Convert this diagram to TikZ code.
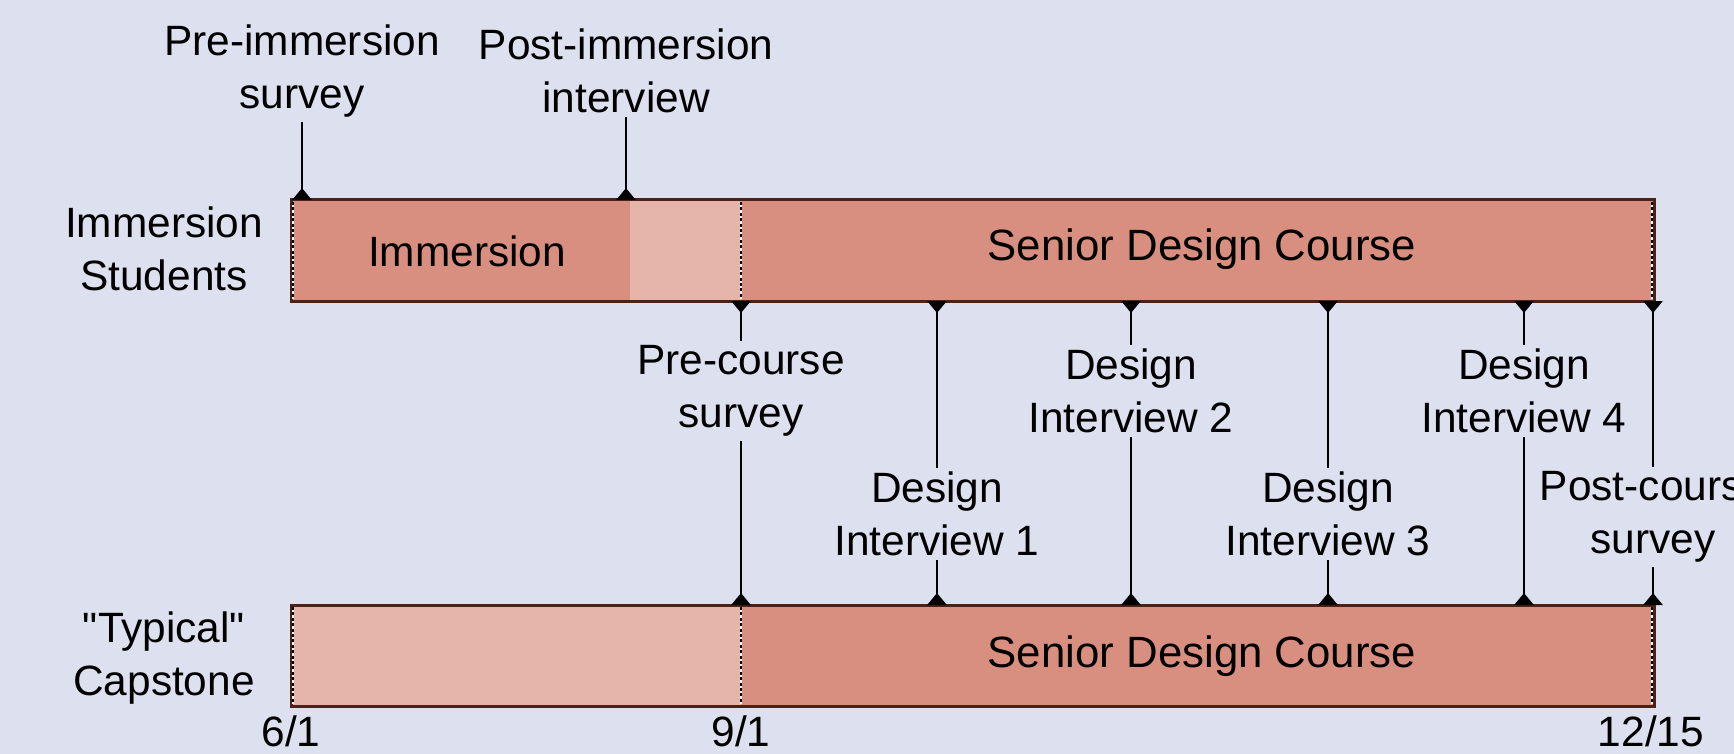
\documentclass[tikz,border=0pt]{standalone}
\usepackage{fontspec}
\setmainfont{Liberation Sans}
\usetikzlibrary{arrows.meta}
\definecolor{slidebg}{RGB}{221,224,239}
\definecolor{barfill}{RGB}{217,143,128}
\definecolor{barlight}{RGB}{230,181,170}
\definecolor{barline}{RGB}{74,34,24}
\tikzset{
  tri/.tip={Triangle[reversed,width=9.5pt,length=6pt]},
  lbl/.style={align=center,inner sep=2pt,font=\fontsize{21.2}{26.5}\selectfont},
  bar/.style={draw=barline,line width=1.5pt},
  daybreak/.style={line width=1.1pt,dash pattern=on 1.5pt off 1.2pt},
  milestone/.style={line width=1.4pt}
}
\begin{document}
\begin{tikzpicture}[x=0.5pt,y=0.5pt,yscale=-1]
\useasboundingbox[fill=slidebg] (0,0) rectangle (1734,754);

%Shape: Rectangle [immersion students bar]
\fill[barfill] (291,200) rectangle (630,301);
\fill[barlight] (630,200) rectangle (741,301);
\fill[barfill] (741,200) rectangle (1654,301);
\draw[bar] (291,200) rectangle (1654,301);
%Shape: Rectangle [typical capstone bar]
\fill[barlight] (291,605) rectangle (741,706);
\fill[barfill] (741,605) rectangle (1654,706);
\draw[bar] (291,605) rectangle (1654,706);

%Straight Lines [date marks]
\foreach \x in {293,741,1652}{
  \draw[white,line width=1.3pt] (\x,202) -- (\x,299);
  \draw[daybreak] (\x,202) -- (\x,299);
  \draw[white,line width=1.3pt] (\x,607) -- (\x,704);
  \draw[daybreak] (\x,607) -- (\x,704);
}

%points on the bars
\coordinate (preimm-b) at (302,200);
\coordinate (postimm-b) at (626,200);
\foreach \n/\x in {pc/741,d1/937,d2/1131,d3/1328,d4/1524,ps/1653}{
  \coordinate (\n-a) at (\x,301);
  \coordinate (\n-b) at (\x,605);
}

% Text Node
\node[lbl] (preimm) at (302,71) {Pre-immersion\\survey};
\node[lbl] (postimm) at (626,71) {Post-immersion\\interview};
\node[lbl] (immstud) at (164,249) {Immersion\\Students};
\node[lbl] (typcap) at (164,658) {\textquotedbl Typical\textquotedbl\\Capstone};
\node[lbl] (immbar) at (467,251) {Immersion};
\node[lbl,font=\fontsize{21.9}{26.5}\selectfont] (sdctop) at (1202,249) {Senior Design Course};
\node[lbl,font=\fontsize{21.9}{26.5}\selectfont] (sdcbot) at (1202,656) {Senior Design Course};
% Text Node
\node[lbl] (pc) at (741,391) {Pre-course\\survey};
\node[lbl] (d1) at (937,514) {Design\\Interview 1};
\node[lbl] (d2) at (1131,391) {Design\\Interview 2};
\node[lbl] (d3) at (1328,514) {Design\\Interview 3};
\node[lbl] (d4) at (1524,391) {Design\\Interview 4};
\node[lbl] (ps) at (1653,517) {Post-course\\survey};
% Text Node
\node[lbl,anchor=base] (jun) at (291,746) {6/1};
\node[lbl,anchor=base] (sep) at (741,746) {9/1};
\node[lbl,anchor=base] (dec) at (1651,746) {12/15};

%Straight Lines [markers]
\draw[milestone,-tri] (preimm.south) -- (preimm-b);
\draw[milestone,-tri] (postimm.south) -- (postimm-b);
\foreach \n in {pc,d1,d2,d3,d4,ps}{
  \draw[milestone,tri-] (\n-a) -- (\n.north);
  \draw[milestone,-tri] (\n.south) -- (\n-b);
}

\end{tikzpicture}
\end{document}
